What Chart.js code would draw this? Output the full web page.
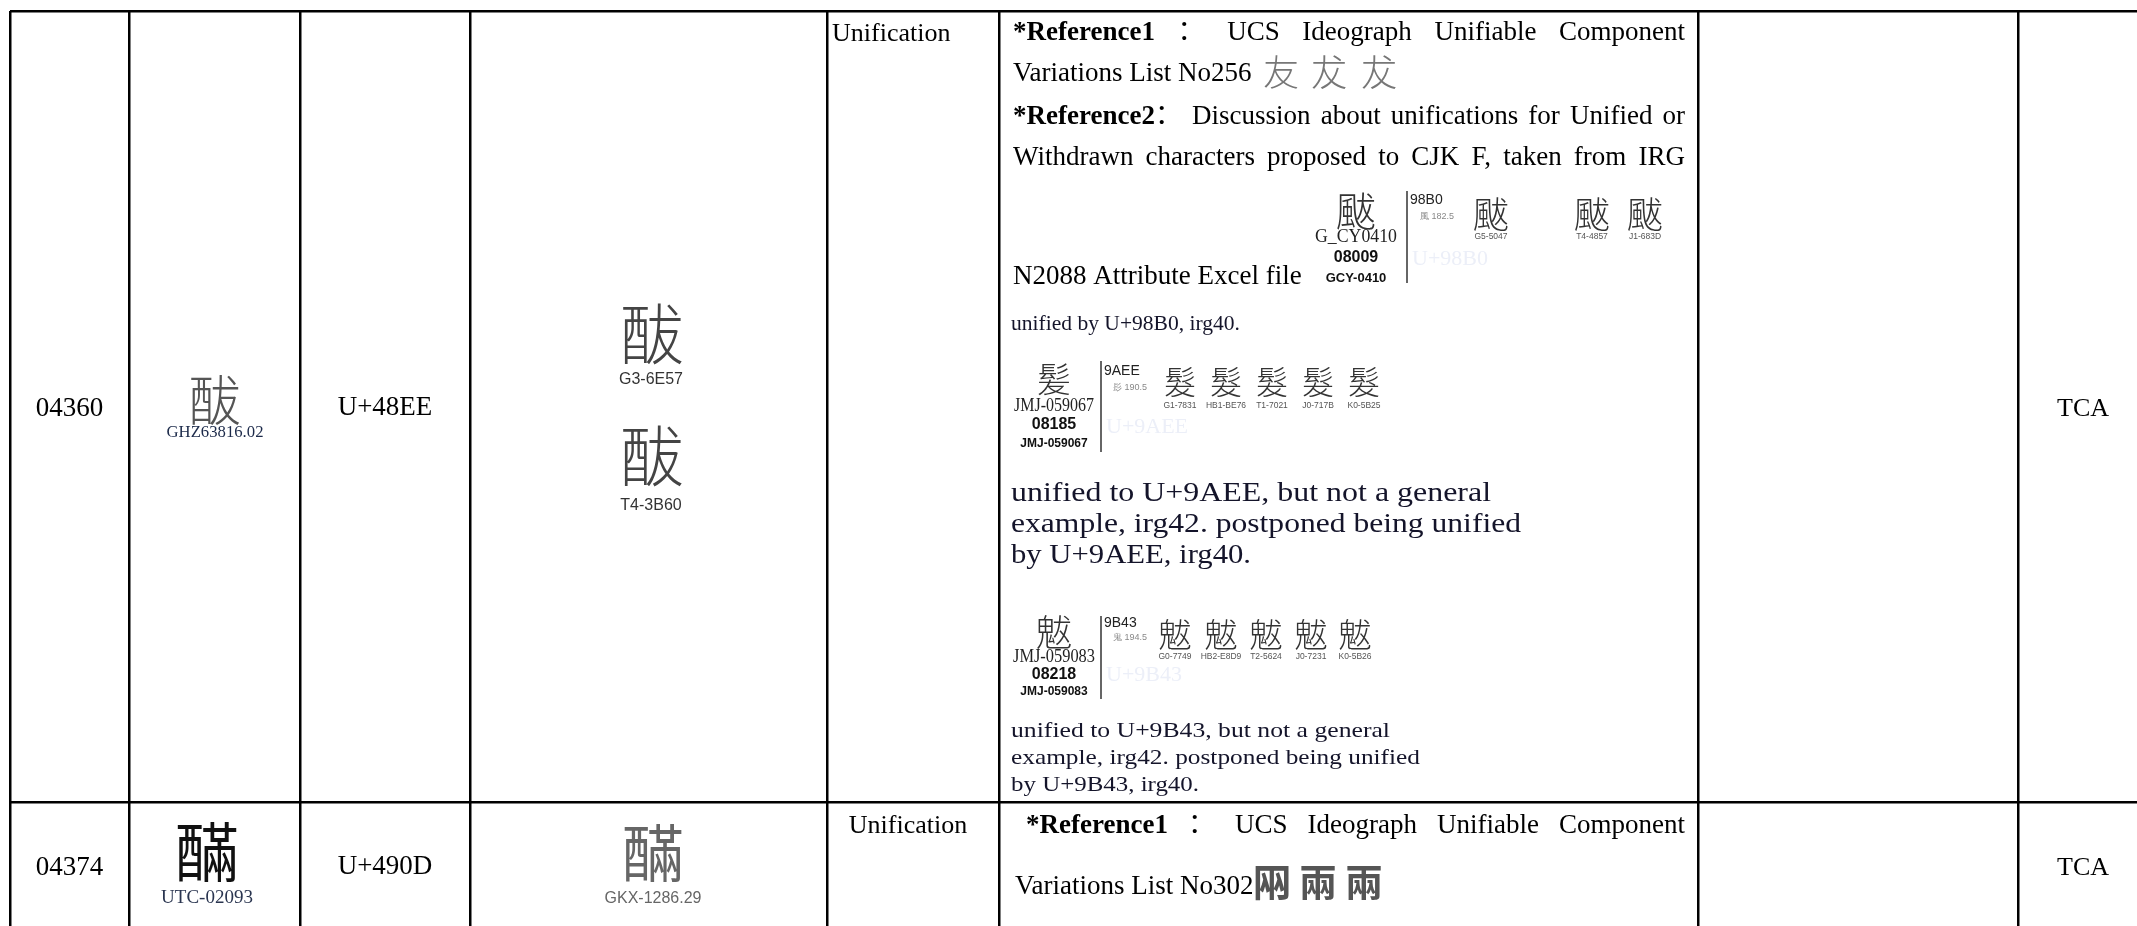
<!DOCTYPE html>
<html lang="en">
<head>
<meta charset="UTF-8" />
<title>IRG review – U+48EE / U+490D</title>
<script src="https://cdn.jsdelivr.net/npm/chart.js"></script>
<style>
  html, body { margin: 0; padding: 0; background: #fff; }
  #wrap { width: 2137px; height: 926px; }
</style>
</head>
<body>
<div id="wrap"><canvas id="sheet" width="2137" height="926"></canvas></div>
<script>
// table rulings, used as tick values of the two axes
const columnTicks = [10, 129, 300, 470, 827, 999, 1698, 2018];
const rowTicks = [11, 802];

// one entry per table row
const serialNos = ['04360', '04374'];
const sourceGlyphs = ['䣮', '䤍'];
const sourceRefs = ['GHZ63816.02', 'UTC-02093'];
const codePoints = ['U+48EE', 'U+490D'];
const evidenceGlyphs = [['䣮', '䣮'], ['䤍']];
const evidenceRefs = [['G3-6E57', 'T4-3B60'], ['GKX-1286.29']];
const decisions = ['Unification', 'Unification'];
const submitters = ['TCA', 'TCA'];

// note column text
const ref1Words = [[['*Reference1', 1]], [['：', 0]], [['UCS', 0]], [['Ideograph', 0]], [['Unifiable', 0]], [['Component', 0]]];
const ref2Words = [[['*Reference2', 1], ['：', 0]], [['Discussion', 0]], [['about', 0]], [['unifications', 0]], [['for', 0]], [['Unified', 0]], [['or', 0]]];
const ref2Line2 = 'Withdrawn characters proposed to CJK F, taken from IRG';
const variationText = ['Variations List No256', 'Variations List No302'];
const variationGlyphs = [['友', '犮', '犮'], ['㒳', '兩', '兩']];
const excelText = 'N2088 Attribute Excel file';
const figures = [
  { main: '颰', mainRef: 'G_CY0410', serial: '08009', code: 'GCY-0410', uni: '98B0', radical: '風 182.5',
    glyphs: ['颰', '颰', '颰'], refs: ['G5-5047', 'T4-4857', 'J1-683D'], ghost: 'U+98B0' },
  { main: '髪', mainRef: 'JMJ-059067', serial: '08185', code: 'JMJ-059067', uni: '9AEE', radical: '髟 190.5',
    glyphs: ['髮', '髮', '髮', '髮', '髮'], refs: ['G1-7831', 'HB1-BE76', 'T1-7021', 'J0-717B', 'K0-5B25'], ghost: 'U+9AEE' },
  { main: '魃', mainRef: 'JMJ-059083', serial: '08218', code: 'JMJ-059083', uni: '9B43', radical: '鬼 194.5',
    glyphs: ['魃', '魃', '魃', '魃', '魃'], refs: ['G0-7749', 'HB2-E8D9', 'T2-5624', 'J0-7231', 'K0-5B26'], ghost: 'U+9B43' }
];
const figureNotes = [
  ['unified by U+98B0, irg40.'],
  ['unified to U+9AEE, but not a general', 'example, irg42. postponed being unified', 'by U+9AEE, irg40.'],
  ['unified to U+9B43, but not a general', 'example, irg42. postponed being unified', 'by U+9B43, irg40.']
];

// ---- layout (document px) ----
const SERIF = "'Liberation Serif', 'Noto Sans CJK SC', serif";
const SANS = "'Liberation Sans', 'Noto Sans', sans-serif";
const CJK = "'Noto Sans CJK TC', 'Noto Sans CJK SC', sans-serif";
const rowMid = [409, 868];
const figLayout = [
  { mx: 1356, gy: 211, ry: 237, rw: 82, sy: 258, cy: 278, lx: 1407, ly: [191, 283], ux: 1410, uy: 200, rx: 1420, rdy: 217,
    gx: [1491, 1592, 1645], ggy: 214, ly2: 237, hx: 1412, hy: 259, ms: 40, gs: 36 },
  { mx: 1054, gy: 379, ry: 406, rw: 80, sy: 425, cy: 444, lx: 1101, ly: [361, 452], ux: 1104, uy: 371, rx: 1113, rdy: 388,
    gx: [1180, 1226, 1272, 1318, 1364], ggy: 382, ly2: 406, hx: 1106, hy: 427, ms: 34, gs: 32 },
  { mx: 1054, gy: 632, ry: 657, rw: 82, sy: 675, cy: 692, lx: 1101, ly: [616, 699], ux: 1104, uy: 623, rx: 1113, rdy: 638,
    gx: [1175, 1221, 1266, 1311, 1355], ggy: 634, ly2: 657, hx: 1106, hy: 675, ms: 36, gs: 33 }
];
const noteLayout = [
  { x: 1011, ys: [324], size: 21, ws: [229] },
  { x: 1011, ys: [494, 525, 556], size: 28, ws: [480, 510, 240] },
  { x: 1011, ys: [731, 758, 785], size: 22, ws: [379, 409, 188] }
];

function tablePlugin() {
  return {
    id: 'tableText',
    afterDraw(chart) {
      const ctx = chart.ctx, xs = chart.scales.x, ys = chart.scales.y;
      const X = v => xs.getPixelForValue(v), Y = v => ys.getPixelForValue(v);

      function put(t, x, y, size, o) {
        o = o || {};
        ctx.save();
        ctx.font = (o.weight || 'normal') + ' ' + size + 'px ' + (o.family || SERIF);
        ctx.fillStyle = o.color || '#000';
        ctx.textBaseline = 'middle';
        ctx.textAlign = o.align || 'center';
        ctx.translate(X(x), Y(y));
        if (o.w) {
          const m = ctx.measureText(t).width;
          ctx.scale((X(x + o.w) - X(x)) / m, 1);
        }
        ctx.fillText(t, 0, 0);
        ctx.restore();
      }

      function justify(words, x0, x1, y, size) {
        ctx.save();
        ctx.textBaseline = 'middle';
        ctx.textAlign = 'left';
        const font = b => (b ? 'bold ' : '') + size + 'px ' + SERIF;
        const widths = words.map(w => w.reduce((s, r) => { ctx.font = font(r[1]); return s + ctx.measureText(r[0]).width; }, 0));
        const total = widths.reduce((a, b) => a + b, 0);
        const gap = (X(x1) - X(x0) - total) / (words.length - 1);
        let px = X(x0);
        words.forEach((w, i) => {
          let cx = px;
          w.forEach(r => { ctx.font = font(r[1]); ctx.fillText(r[0], cx, Y(y)); cx += ctx.measureText(r[0]).width; });
          px += widths[i] + gap;
        });
        ctx.restore();
      }

      function vline(x, y0, y1) {
        ctx.save();
        ctx.strokeStyle = '#333';
        ctx.lineWidth = 1.5;
        ctx.beginPath();
        ctx.moveTo(X(x), Y(y0));
        ctx.lineTo(X(x), Y(y1));
        ctx.stroke();
        ctx.restore();
      }

      // plain cells
      const cm = i => (columnTicks[i] + columnTicks[i + 1]) / 2;
      serialNos.forEach((s, r) => put(s, cm(0), rowMid[r], 27));
      codePoints.forEach((s, r) => put(s, cm(2), rowMid[r] - 1, 27));
      submitters.forEach((s, r) => put(s, 2083, rowMid[r], 26));

      // source glyphs
      put(sourceGlyphs[0], 214, 400, 54, { family: CJK, color: '#555', weight: '300' });
      put(sourceRefs[0], 215, 433, 17, { color: '#1c2a4a', w: 97 });
      put(sourceGlyphs[1], 207, 852, 64, { family: CJK, color: '#111' });
      put(sourceRefs[1], 207, 898, 19, { color: '#2a3550' });

      // evidence glyphs
      put(evidenceGlyphs[0][0], 651, 334, 66, { family: CJK, color: '#444', weight: '300' });
      put(evidenceRefs[0][0], 651, 380, 16, { family: SANS, color: '#333' });
      put(evidenceGlyphs[0][1], 651, 456, 66, { family: CJK, color: '#444', weight: '300' });
      put(evidenceRefs[0][1], 651, 506, 16, { family: SANS, color: '#333' });
      put(evidenceGlyphs[1][0], 653, 853, 62, { family: CJK, color: '#666' });
      put(evidenceRefs[1][0], 653, 899, 16, { family: SANS, color: '#666' });

      // decision column
      put(decisions[0], 832, 34, 26, { align: 'left' });
      put(decisions[1], 908, 826, 26);

      // notes, row 1
      justify(ref1Words, 1013, 1685, 33, 27);
      put(variationText[0], 1013, 74, 27, { align: 'left' });
      [1281, 1329, 1379].forEach((gx, i) => put(variationGlyphs[0][i], gx, 72, 36, { family: CJK, color: '#777', weight: '300' }));
      justify(ref2Words, 1013, 1685, 117, 27);
      justify(ref2Line2.split(' ').map(w => [[w, 0]]), 1013, 1685, 158, 27);
      put(excelText, 1013, 277, 27, { align: 'left' });

      figures.forEach((f, k) => {
        const L = figLayout[k];
        put(f.main, L.mx, L.gy, L.ms, { family: CJK, color: '#333', weight: '300' });
        put(f.mainRef, L.mx, L.ry, 19, { color: '#222', w: L.rw });
        put(f.serial, L.mx, L.sy, 16, { family: SANS, weight: 'bold', color: '#111' });
        put(f.code, L.mx, L.cy, k === 0 ? 13 : 12, { family: SANS, weight: 'bold', color: '#111' });
        vline(L.lx, L.ly[0], L.ly[1]);
        put(f.uni, L.ux, L.uy, 14, { family: SANS, align: 'left', color: '#222' });
        put(f.radical, L.rx, L.rdy, 9, { family: SANS, align: 'left', color: '#888' });
        f.glyphs.forEach((g, i) => {
          put(g, L.gx[i], L.ggy, L.gs, { family: CJK, color: '#333', weight: '300' });
          put(f.refs[i], L.gx[i], L.ly2, 8.5, { family: SANS, color: '#555' });
        });
        put(f.ghost, L.hx, L.hy, 22, { align: 'left', color: '#eceff8' });
        const N = noteLayout[k];
        figureNotes[k].forEach((line, i) => put(line, N.x, N.ys[i], N.size, { align: 'left', color: '#14142a', w: N.ws[i] }));
      });

      // notes, row 2
      justify(ref1Words, 1026, 1685, 826, 27);
      put(variationText[1], 1015, 887, 27, { align: 'left' });
      [1272, 1318, 1364].forEach((gx, i) => put(variationGlyphs[1][i], gx, 882, 38, { family: CJK, color: '#555', weight: 'bold' }));
    }
  };
}

const gridAxis = (ticks, extra) => Object.assign({
  type: 'linear',
  afterBuildTicks: axis => { axis.ticks = ticks.map(value => ({ value })); },
  ticks: { display: false },
  grid: { color: '#000', lineWidth: 2.5, drawTicks: false },
  border: { display: false }
}, extra);

new Chart(document.getElementById('sheet'), {
  type: 'scatter',
  data: { datasets: [{ data: [] }] },
  options: {
    responsive: false,
    animation: false,
    devicePixelRatio: 1,
    layout: { padding: { left: 10, top: 11, right: 0, bottom: 0 } },
    plugins: { legend: { display: false }, tooltip: { enabled: false } },
    scales: {
      x: gridAxis(columnTicks, { min: 10, max: 2137, afterFit: s => { s.height = 0; } }),
      y: gridAxis(rowTicks, { min: 11, max: 926, reverse: true, afterFit: s => { s.width = 0; } })
    }
  },
  plugins: [tablePlugin()]
});
</script>
</body>
</html>
